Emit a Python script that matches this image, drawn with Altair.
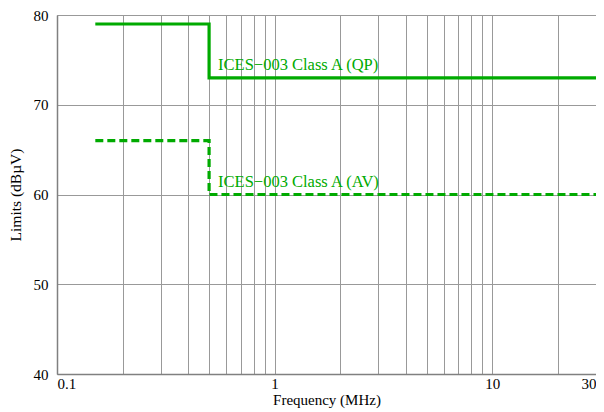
import altair as alt
import pandas as pd

freq = [0.15, 0.5, 30]
qp = [79, 73, 73]
av = [66, 60, 60]
series = ["ICES−003 Class A (QP)", "ICES−003 Class A (AV)"]

x_ticks = [0.1, 0.2, 0.3, 0.4, 0.5, 0.6, 0.7, 0.8, 0.9, 1, 2, 3, 4, 5, 6, 7, 8, 9, 10, 20, 30]
x_labels = [0.1, 1, 10, 30]
y_ticks = [40, 50, 60, 70, 80]

rows = []
for f, v in zip(freq, qp):
    rows.append({"f": f, "v": v, "s": "QP"})
for f, v in zip(freq, av):
    rows.append({"f": f, "v": v, "s": "AV"})
df = pd.DataFrame(rows)

labels = pd.DataFrame({"f": [0.55, 0.55], "v": [qp[1], av[1]], "t": series})

FONT = "Liberation Serif"
GREEN = "#00aa00"

xscale = alt.Scale(type="log", domain=[0.1, 30], nice=False)
yscale = alt.Scale(domain=[40, 80], nice=False, zero=False)

label_expr = "indexof([" + ",".join(str(v) for v in x_labels) + "], datum.value) >= 0 ? datum.label : ''"

base = alt.Chart(df)

qp_line = base.transform_filter("datum.s == 'QP'").mark_line(
    interpolate="step-after", color=GREEN, strokeWidth=3.2, clip=True
).encode(
    x=alt.X("f:Q", scale=xscale, axis=alt.Axis(
        values=x_ticks, labelExpr=label_expr, title="Frequency (MHz)", ticks=False,
        grid=True, gridColor="#999999", gridWidth=1, domainColor="#808080", domainWidth=1.5,
        labelFont=FONT, labelFontSize=15, labelColor="black", labelPadding=2,
        titleFont=FONT, titleFontSize=15, titleFontWeight="normal", titleColor="black", titlePadding=1,
    )),
    y=alt.Y("v:Q", scale=yscale, axis=alt.Axis(
        values=y_ticks, title="Limits (dBµV)", ticks=False,
        grid=True, gridColor="#999999", gridWidth=1, domainColor="#808080", domainWidth=1.5,
        labelFont=FONT, labelFontSize=15, labelColor="black", labelPadding=9,
        titleFont=FONT, titleFontSize=15.5, titleFontWeight="normal", titleColor="black", titlePadding=10,
    )),
)

av_line = base.transform_filter("datum.s == 'AV'").mark_line(
    interpolate="step-after", color=GREEN, strokeWidth=3.2, strokeDash=[8, 4], clip=True
).encode(x=alt.X("f:Q", scale=xscale), y=alt.Y("v:Q", scale=yscale))

txt = alt.Chart(labels).mark_text(
    align="left", baseline="bottom", dy=-5, font=FONT, fontSize=16.5, color=GREEN
).encode(x=alt.X("f:Q", scale=xscale), y=alt.Y("v:Q", scale=yscale), text="t:N")

chart = alt.layer(qp_line, av_line, txt).properties(
    width=539, height=359,
    autosize=alt.AutoSizeParams(type="none"),
    padding={"left": 49, "top": 7, "right": 0, "bottom": 36},
).configure_view(stroke="#808080", strokeWidth=1.5).configure(
    background="white", font=FONT
).configure_axis(labelFont=FONT, titleFont=FONT)

chart.save("out.html", embed_options={"renderer": "svg", "actions": False})
